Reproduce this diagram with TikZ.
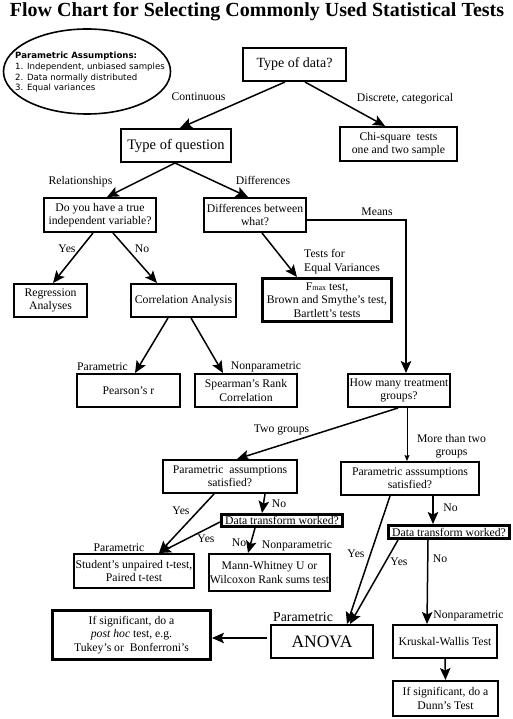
\documentclass[tikz,border=0pt]{standalone}
\usepackage{fontspec}
\setmainfont{Liberation Serif}
\newfontfamily\dejavu{DejaVu Sans}
\usetikzlibrary{arrows.meta,shapes.geometric}
\newcommand\myfs{\fontsize{11.7}{13.3}\selectfont}
\begin{document}
\begin{tikzpicture}[x=1pt,y=-1pt,
 box/.style={draw, line width=1.6pt, inner sep=0pt, align=center, font=\myfs},
 mbox/.style={box, line width=2.2pt},
 tbox/.style={box, line width=2.8pt},
 lbl/.style={inner sep=0pt, font=\myfs},
 arr/.style={-{Stealth[length=12pt,width=10.5pt,inset=2.5pt]}, line width=1.5pt},
 thinarr/.style={-{Stealth[length=6pt,width=5pt,inset=1pt]}, line width=0.8pt},
]
\useasboundingbox (0,0) rectangle (512,719);

% title
\node[inner sep=0pt, anchor=base, font=\fontsize{20}{22}\selectfont\bfseries] (title) at (257,16.5)
  {Flow Chart for Selecting Commonly Used Statistical Tests};

% assumptions ellipse
\node[draw, ellipse, line width=1.6pt, minimum width=167pt, minimum height=85pt, inner sep=0pt] (assump) at (87,71.5) {};
\node[inner sep=0pt, anchor=north west, align=left, font=\dejavu\fontsize{8.6}{10.7}\selectfont] (assumptxt) at (15,52)
  {\textbf{Parametric Assumptions:}\\1. Independent, unbiased samples\\2. Data normally distributed\\3. Equal variances};

% boxes
\node[box, minimum width=103.4pt, minimum height=33.4pt, font=\fontsize{14}{16}\selectfont] (tod) at (294.5,64.5) {Type of data?};
\node[box, minimum width=110.4pt, minimum height=33.4pt, font=\fontsize{14.5}{16}\selectfont] (toq) at (176,145.5) {Type of question};
\node[box, minimum width=117.4pt, minimum height=34.4pt] (chi) at (398.5,144) {Chi-square\ \ tests\\one and two sample};
\node[box, minimum width=112.4pt, minimum height=34.4pt] (dyh) at (100,215) {Do you have a true\\independent variable?};
\node[box, minimum width=102.4pt, minimum height=34.4pt] (dbw) at (255,215) {Differences between\\what?};
\node[box, minimum width=73.4pt, minimum height=33.4pt] (reg) at (50.5,300.5) {Regression\\Analyses};
\node[box, minimum width=105.4pt, minimum height=33.4pt] (cor) at (183.5,300.5) {Correlation Analysis};
\node[tbox, minimum width=129.2pt, minimum height=43.2pt] (fmax) at (327,300)
  {F{\fontsize{8}{8}\selectfont max} test,\\Brown and Smythe’s test,\\Bartlett’s tests};
\node[box, minimum width=103.4pt, minimum height=33.4pt] (pear) at (128.5,390.5) {Pearson’s r};
\node[box, minimum width=102.4pt, minimum height=33.4pt] (spear) at (246,390.5) {Spearman’s Rank\\Correlation};
\node[box, minimum width=102.4pt, minimum height=33.4pt] (how) at (399,390.5) {How many treatment\\groups?};
\node[box, minimum width=134.4pt, minimum height=33.4pt] (pasL) at (230,476.5) {Parametric\ \ assumptions\\satisfied?};
\node[box, minimum width=138.4pt, minimum height=33.4pt] (pasR) at (410,478.5) {Parametric asssumptions\\satisfied?};
\node[tbox, minimum width=121.2pt, minimum height=12.2pt] (dtwL) at (282,520.5) {Data transform worked?};
\node[tbox, minimum width=121.2pt, minimum height=13.2pt] (dtwR) at (449,532) {Data transform worked?};
\node[mbox, minimum width=119.8pt, minimum height=33.8pt] (stud) at (134,571) {Student’s unpaired t-test,\\Paired t-test};
\node[mbox, minimum width=120.8pt, minimum height=36.8pt] (mann) at (269.5,572.5) {Mann-Whitney U or\\Wilcoxon Rank sums test};
\node[tbox, minimum width=158.2pt, minimum height=49.2pt] (posthoc) at (131.5,635)
  {If significant, do a\\\textit{post hoc} test, e.g.\\Tukey’s or\ \ Bonferroni’s};
\node[box, minimum width=102.4pt, minimum height=33.4pt, font=\fontsize{17.5}{19}\selectfont] (anova) at (322,641.5) {ANOVA};
\node[box, minimum width=104.4pt, minimum height=33.4pt] (krus) at (445,641.5) {Kruskal-Wallis Test};
\node[mbox, minimum width=104.8pt, minimum height=34.8pt] (dunn) at (445.5,698.5) {If significant, do a\\Dunn’s Test};

% connectors
\draw[arr] ([xshift=-9.5pt]tod.south) -- ([xshift=4pt]toq.north);
\draw[arr] ([xshift=10.5pt]tod.south) -- ([xshift=-13.5pt]chi.north);
\draw[arr] ([xshift=-1pt]toq.south) -- ([xshift=7pt]dyh.north);
\draw[arr] ([xshift=-1pt]toq.south) -- ([xshift=-7pt]dbw.north);
\draw[arr] ([xshift=-7pt]dyh.south) -- ([xshift=2.5pt]reg.north);
\draw[arr] ([xshift=13pt]dyh.south) -- ([xshift=-26.5pt]cor.north);
\draw[arr] ([xshift=7pt]dbw.south) -- ([xshift=-30pt]fmax.north);
\draw[arr] ([yshift=-5pt]dbw.east) -| ([xshift=7pt]how.north);
\draw[arr] ([xshift=-15.5pt]cor.south) -- ([xshift=6.5pt]pear.north);
\draw[arr] ([xshift=7.5pt]cor.south) -- ([xshift=-23pt]spear.north);
\draw[arr] ([xshift=-1pt]how.south) -- ([xshift=7pt]pasL.north);
\draw[thinarr] ([xshift=8pt]how.south) -- ([xshift=-3pt]pasR.north);
\draw[arr] ([xshift=35pt]pasL.south) -- ([xshift=-20pt]dtwL.north);
\draw[arr] ([xshift=-16pt]pasL.south) -- ([xshift=25pt]stud.north);
\draw[arr] ([yshift=-1.5pt]dtwL.west) -- ([xshift=25pt]stud.north);
\draw[arr] ([xshift=-27pt]dtwL.south) -- ([xshift=-21.5pt]mann.north);
\draw[arr] ([xshift=23pt]pasR.south) -- ([xshift=-16pt]dtwR.north);
\draw[arr] ([xshift=-20pt]pasR.south) -- ([xshift=25pt]anova.north);
\draw[arr] ([xshift=-51pt]dtwR.south) -- ([xshift=28pt]anova.north);
\draw[arr] ([xshift=-21pt]dtwR.south) -- ([xshift=-18pt]krus.north);
\draw[arr] ([xshift=-3pt,yshift=3.5pt]anova.west) -- ([yshift=-3pt]posthoc.east);
\draw[arr] (krus.south) -- (dunn.north);

% labels
\node[lbl] (lcont) at (198.5,97) {Continuous};
\node[lbl] (ldisc) at (405,99) {Discrete, categorical};
\node[lbl] (lrel) at (80.5,182) {Relationships};
\node[lbl] (ldiff) at (263,180.5) {Differences};
\node[lbl] (lmeans) at (377,211.5) {Means};
\node[lbl] (lyes1) at (67,248.5) {Yes};
\node[lbl] (lno1) at (142,249) {No};
\node[lbl, align=left, anchor=west] (ltests) at (304,261.5) {Tests for\\Equal Variances};
\node[lbl] (lpar1) at (102.5,367) {Parametric};
\node[lbl] (lnon1) at (266,367) {Nonparametric};
\node[lbl] (ltwo) at (281.5,429.5) {Two groups};
\node[lbl, align=center] (lmore) at (451.5,446.5) {More than two\\groups};
\node[lbl] (lno2) at (279,504) {No};
\node[lbl] (lyes2) at (181,511) {Yes};
\node[lbl] (lyes3) at (206,539) {Yes};
\node[lbl] (lno3) at (239,543) {No};
\node[lbl] (lnon2) at (297,546) {Nonparametric};
\node[lbl] (lpar2) at (119,548) {Parametric};
\node[lbl] (lno4) at (450.5,508) {No};
\node[lbl] (lyes4) at (356,554) {Yes};
\node[lbl] (lyes5) at (399,561.5) {Yes};
\node[lbl] (lno5) at (440,559) {No};
\node[lbl, font=\fontsize{13.8}{15}\selectfont] (lpar3) at (303,617) {Parametric};
\node[lbl] (lnon3) at (468.5,616) {Nonparametric};
\end{tikzpicture}
\end{document}
